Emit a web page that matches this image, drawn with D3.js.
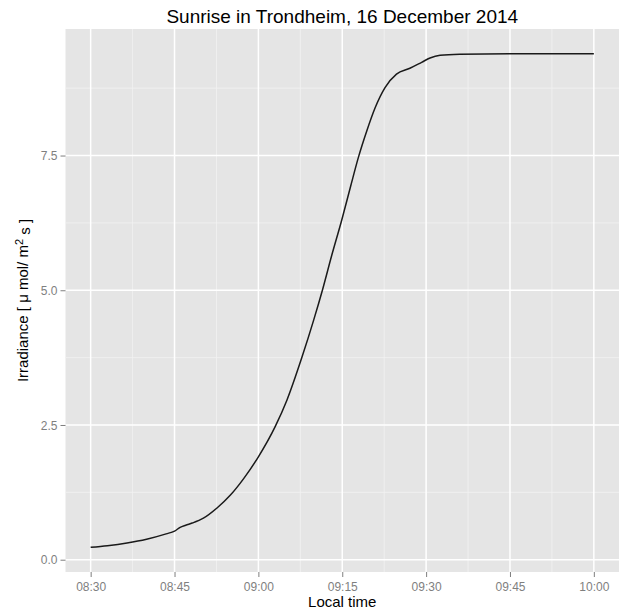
<!DOCTYPE html>
<html lang="en">
<head>
    <meta charset="UTF-8">
    <title>Sunrise in Trondheim</title>
    <script src="https://d3js.org/d3.v7.min.js"></script>
    <style>
        body { margin: 0; background: #fff; }
        svg { font-family: "Liberation Sans", Arial, Helvetica, sans-serif; }
        .panel { fill: #e5e5e5; }
        .grid-major { stroke: #fff; stroke-width: 1.5px; }
        .grid-minor { stroke: #f2f2f2; stroke-width: 0.8px; }
        .tick-mark { stroke: #7f7f7f; stroke-width: 1px; }
        .tick-label { fill: #7f7f7f; font-size: 12px; }
        .axis-title { fill: #000; font-size: 15px; }
        .title { fill: #000; font-size: 19px; }
        .line { fill: none; stroke: #1a1a1a; stroke-width: 1.5px; }
    </style>
</head>
<body>
    <svg width="621" height="610"></svg>
    <script>
        // local time of each reading, 16 Dec 2014
        const times = [
            "08:30:00", "08:33:00", "08:36:30", "08:40:00", "08:43:30",
            "08:45:00", "08:46:00", "08:47:00", "08:48:10", "08:50:10",
            "08:52:36", "08:55:00", "08:57:24", "09:00:00", "09:03:00",
            "09:05:06", "09:07:48", "09:09:54", "09:11:30", "09:13:06",
            "09:14:54", "09:16:30", "09:17:54", "09:19:24", "09:20:54",
            "09:22:39", "09:24:42", "09:27:06", "09:29:12", "09:30:42",
            "09:32:30", "09:36:00", "09:45:00", "10:00:00"
        ];
        // irradiance, umol / m2 s
        const irradiance = [
            0.23, 0.26, 0.31, 0.38, 0.48,
            0.53, 0.60, 0.64, 0.68, 0.77,
            0.96, 1.20, 1.51, 1.91, 2.47,
            2.96, 3.76, 4.45, 5.02, 5.64,
            6.30, 6.93, 7.47, 7.96, 8.39,
            8.76, 9.01, 9.12, 9.23, 9.31,
            9.36, 9.38, 9.39, 9.39
        ];
        const xTicks = ["08:30", "08:45", "09:00", "09:15", "09:30", "09:45", "10:00"];
        const xMinor = ["08:37:30", "08:52:30", "09:07:30", "09:22:30", "09:37:30", "09:52:30"];
        const yTicks = [0, 2.5, 5, 7.5];
        const yMinor = [1.25, 3.75, 6.25, 8.75];

        const parseTime = d3.timeParse("%H:%M:%S");
        const parseHM = d3.timeParse("%H:%M");
        const data = times.map((t, i) => ({ t: parseTime(t), v: irradiance[i] }));

        const svg = d3.select("svg");
        const panel = { left: 65.5, right: 619, top: 29, bottom: 572 };

        // ggplot style 5% expansion
        const tExt = d3.extent(data, d => d.t);
        const tPad = (tExt[1] - tExt[0]) * 0.05;
        const vExt = d3.extent(data, d => d.v);
        const vPad = (vExt[1] - vExt[0]) * 0.05;

        const x = d3.scaleTime()
            .domain([new Date(+tExt[0] - tPad), new Date(+tExt[1] + tPad)])
            .range([panel.left, panel.right]);
        const y = d3.scaleLinear()
            .domain([vExt[0] - vPad, vExt[1] + vPad])
            .range([panel.bottom, panel.top]);

        svg.append("rect")
            .attr("class", "panel")
            .attr("x", panel.left)
            .attr("y", panel.top)
            .attr("width", panel.right - panel.left)
            .attr("height", panel.bottom - panel.top);

        // grid lines
        svg.selectAll(".gx-minor")
            .data(xMinor.map(parseTime))
            .enter().append("line")
            .attr("class", "grid-minor")
            .attr("x1", d => x(d)).attr("x2", d => x(d))
            .attr("y1", panel.top).attr("y2", panel.bottom);
        svg.selectAll(".gy-minor")
            .data(yMinor)
            .enter().append("line")
            .attr("class", "grid-minor")
            .attr("x1", panel.left).attr("x2", panel.right)
            .attr("y1", d => y(d)).attr("y2", d => y(d));
        svg.selectAll(".gx-major")
            .data(xTicks.map(parseHM))
            .enter().append("line")
            .attr("class", "grid-major")
            .attr("x1", d => x(d)).attr("x2", d => x(d))
            .attr("y1", panel.top).attr("y2", panel.bottom);
        svg.selectAll(".gy-major")
            .data(yTicks)
            .enter().append("line")
            .attr("class", "grid-major")
            .attr("x1", panel.left).attr("x2", panel.right)
            .attr("y1", d => y(d)).attr("y2", d => y(d));

        // the curve
        const line = d3.line()
            .x(d => x(d.t))
            .y(d => y(d.v))
            .curve(d3.curveMonotoneX);
        svg.append("path")
            .datum(data)
            .attr("class", "line")
            .attr("d", line);

        // axes
        const xAxis = d3.axisBottom(x)
            .tickValues(xTicks.map(parseHM))
            .tickFormat(d3.timeFormat("%H:%M"))
            .tickSize(5).tickPadding(4);
        const gx = svg.append("g")
            .attr("transform", `translate(0,${panel.bottom})`)
            .call(xAxis);
        const yAxis = d3.axisLeft(y)
            .tickValues(yTicks)
            .tickFormat(d3.format(".1f"))
            .tickSize(5).tickPadding(3);
        const gy = svg.append("g")
            .attr("transform", `translate(${panel.left},0)`)
            .call(yAxis);
        [gx, gy].forEach(g => {
            g.select(".domain").remove();
            g.selectAll(".tick line").attr("class", "tick-mark");
            g.selectAll(".tick text").attr("class", "tick-label").attr("fill", null);
        });
        gx.selectAll(".tick text").attr("dy", "0.85em");
        gy.selectAll(".tick text").attr("dy", "0.35em");

        const cx = (panel.left + panel.right) / 2;
        const cy = (panel.top + panel.bottom) / 2;

        svg.append("text")
            .attr("class", "title")
            .attr("x", cx).attr("y", 23)
            .attr("text-anchor", "middle")
            .text("Sunrise in Trondheim, 16 December 2014");

        svg.append("text")
            .attr("class", "axis-title")
            .attr("x", cx).attr("y", 607)
            .attr("text-anchor", "middle")
            .text("Local time");

        const yl = svg.append("text")
            .attr("class", "axis-title")
            .attr("transform", `translate(28,${cy}) rotate(-90)`)
            .attr("text-anchor", "middle");
        yl.append("tspan").text("Irradiance [ \u03bc mol/ m");
        yl.append("tspan").attr("dy", "-0.45em").attr("font-size", "11px").text("2");
        yl.append("tspan").attr("dy", "0.45em").text(" s ]");
    </script>
</body>
</html>
